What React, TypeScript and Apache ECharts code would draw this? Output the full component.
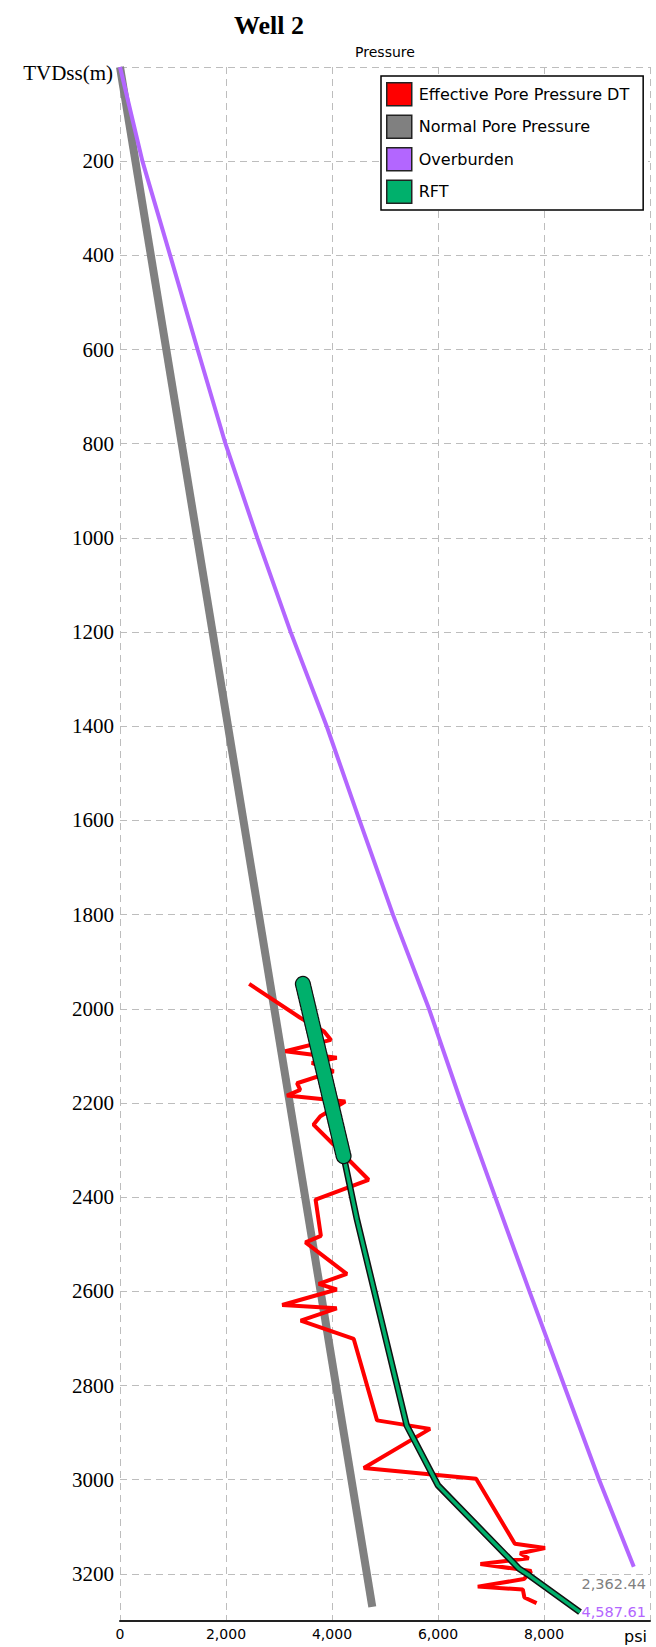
import { useEffect, useRef } from 'react';
import * as echarts from 'echarts';

const TITLE = 'Well 2';
const X_NAME = 'Pressure';
const X_UNIT = 'psi';
const Y_NAME = 'TVDss(m)';
const LEGEND_NAMES = ['Effective Pore Pressure DT', 'Normal Pore Pressure', 'Overburden', 'RFT'];

// Effective Pore Pressure DT (psi vs TVDss m)
const EPP_PSI = [2437, 3400, 3850, 3980, 3120, 4090, 3620, 4030, 3340, 3400, 3150, 4250, 3780, 3650, 4160, 4690, 3690, 3790, 3500, 4280, 3750, 4090, 3060, 4090, 3410, 4410, 4850, 5850, 4600, 6720, 7450, 8020, 7550, 7710, 6800, 7760, 7620, 6750, 7600, 7630, 7860];
const EPP_DEPTH = [1947, 2019, 2048, 2066, 2090, 2104, 2115, 2133, 2158, 2172, 2184, 2197, 2228, 2246, 2303, 2363, 2405, 2482, 2496, 2563, 2584, 2596, 2629, 2636, 2662, 2701, 2874, 2892, 2975, 2998, 3136, 3145, 3156, 3167, 3179, 3194, 3211, 3227, 3233, 3250, 3262];

// Normal Pore Pressure
const NPP_PSI = [0, 4760];
const NPP_DEPTH = [0, 3270];

// Overburden
const OB_PSI = [0, 423, 946, 1464, 1990, 2590, 3220, 3900, 4520, 5150, 5830, 6440, 7080, 7726, 8380, 9040, 9694];
const OB_DEPTH = [0, 200, 400, 600, 800, 1000, 1200, 1400, 1600, 1800, 2000, 2200, 2400, 2600, 2800, 3000, 3185];

// RFT: measured interval (thick) and trend (thin)
const RFT_PSI = [3450, 4219];
const RFT_DEPTH = [1947, 2313];
const RFT_TREND_PSI = [4219, 4470, 5410, 6000, 7531, 7719, 8680];
const RFT_TREND_DEPTH = [2313, 2447, 2885, 3012, 3189, 3203, 3281];

const END_LABELS = ['2,362.44', '4,587.61'];

const X_MIN = 0, X_MAX = 10000, X_STEP = 2000;
const Y_MIN = 0, Y_MAX = 3300, Y_STEP = 200;

const zip = (a: number[], b: number[]) => a.map((v, i) => [v, b[i]]);

const GRID_LINE = { color: '#bdbdbd', type: [7, 5] as any, width: 1 };

export default function App() {
  const ref = useRef<HTMLDivElement>(null);
  useEffect(() => {
    const chart = echarts.init(ref.current!, null, { renderer: 'svg' });
    const GREY = '#808080', PURPLE = '#b366ff', RED = '#ff0000', GREEN = '#00b06c';
    const line = (name: string, data: number[][], color: string, width: number, z: number, extra: any = {}) => ({
      name, type: 'line', data, showSymbol: false, symbol: 'none', silent: true, z,
      lineStyle: { color, width, ...(extra.lineStyle || {}) }, itemStyle: { color },
      emphasis: { disabled: true },
    });
    const txt = (x: number, y: number, text: string, font: string, fill: string, align: string) => ({
      type: 'text', x, y, z: 10,
      style: { text, fill, font, textAlign: align, textVerticalAlign: 'middle', align, verticalAlign: 'middle' },
    });
    chart.setOption({
      animation: false,
      backgroundColor: '#fff',
      grid: { left: 120, top: 67, right: 6, bottom: 26 },
      legend: {
        data: LEGEND_NAMES, orient: 'vertical', left: 381, top: 76,
        padding: [6, 14, 6, 5], itemWidth: 25, itemHeight: 23, itemGap: 8, icon: 'rect',
        backgroundColor: '#fff', borderColor: '#000', borderWidth: 1.5, borderRadius: 0,
        itemStyle: { borderColor: '#222', borderWidth: 1.5 },
        textStyle: { fontFamily: 'DejaVu Sans', fontSize: 16, color: '#000', padding: [0, 0, 0, 2] },
        selectedMode: false,
      },
      xAxis: {
        type: 'value', min: X_MIN, max: X_MAX, interval: X_STEP, position: 'bottom',
        axisLine: { show: true, onZero: false, lineStyle: { color: '#222', width: 2 } },
        axisTick: { show: false },
        axisLabel: {
          fontFamily: 'DejaVu Sans', fontSize: 14, color: '#000', margin: 6,
          formatter: (v: number) => (v === X_MAX ? '' : v.toLocaleString('en-US')),
        },
        splitLine: { show: true, lineStyle: GRID_LINE },
      },
      yAxis: {
        type: 'value', inverse: true, min: Y_MIN, max: Y_MAX, interval: Y_STEP,
        axisLine: { show: false }, axisTick: { show: false },
        axisLabel: {
          fontFamily: 'Liberation Serif', fontSize: 21, color: '#000', margin: 6,
          formatter: (v: number) => (v === Y_MIN || v === Y_MAX ? '' : String(v)),
        },
        splitLine: { show: true, lineStyle: GRID_LINE },
      },
      graphic: [
        txt(269, 25, TITLE, 'bold 26px "Liberation Serif"', '#000', 'center'),
        txt(385, 52, X_NAME, '14px "DejaVu Sans"', '#000', 'center'),
        txt(113, 73, Y_NAME, '21px "Liberation Serif"', '#000', 'right'),
        txt(647, 1636, X_UNIT, '16px "DejaVu Sans"', '#000', 'right'),
        txt(646, 1584, END_LABELS[0], '14.5px "DejaVu Sans"', GREY, 'right'),
        txt(646, 1612, END_LABELS[1], '14.5px "DejaVu Sans"', PURPLE, 'right'),
      ],
      series: [
        line('Normal Pore Pressure', zip(NPP_PSI, NPP_DEPTH), GREY, 8, 2),
        line('Overburden', zip(OB_PSI, OB_DEPTH), PURPLE, 4, 2),
        line('Effective Pore Pressure DT', zip(EPP_PSI, EPP_DEPTH), RED, 4, 3),
        line('RFT trend outline', zip(RFT_TREND_PSI, RFT_TREND_DEPTH), '#111', 6.5, 4),
        line('RFT trend', zip(RFT_TREND_PSI, RFT_TREND_DEPTH), GREEN, 3.5, 5),
        line('RFT outline', zip(RFT_PSI, RFT_DEPTH), '#111', 16, 6, { lineStyle: { cap: 'round', type: [2, 2] } }),
        line('RFT', zip(RFT_PSI, RFT_DEPTH), GREEN, 13.5, 7, { lineStyle: { cap: 'round' } }),
      ],
    });
    return () => chart.dispose();
  }, []);
  return <div ref={ref} style={{ position: 'fixed', left: 0, top: 0, width: 656, height: 1647, background: '#fff' }} />;
}
